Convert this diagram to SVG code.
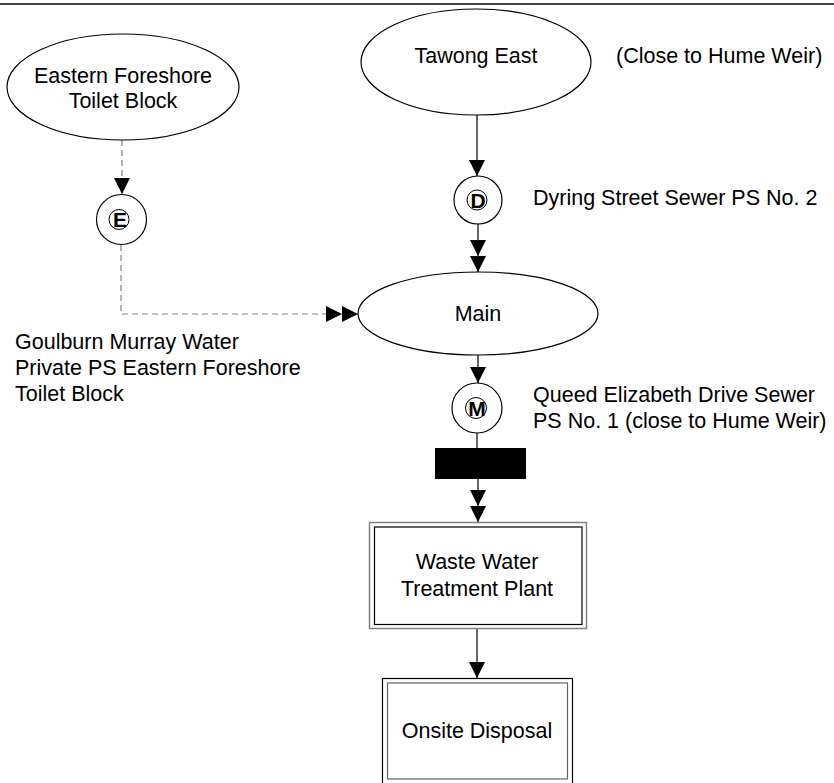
<svg xmlns="http://www.w3.org/2000/svg" width="834" height="783" viewBox="0 0 834 783">
<style>
text{font-family:"Liberation Sans",Arial,sans-serif;font-size:21.5px;fill:#000}
.c{text-anchor:middle}
.b{font-weight:bold;font-size:21px}
.shape{fill:#fff;stroke:#000;stroke-width:1.2}
.ring{fill:none;stroke:#000;stroke-width:1}
.ln{fill:none;stroke:#000;stroke-width:1.2}
.dash{fill:none;stroke:#808080;stroke-width:1.2;stroke-dasharray:6,4}
</style>
<defs>
<marker id="arr" markerUnits="userSpaceOnUse" markerWidth="16" markerHeight="16" refX="16" refY="8" orient="auto"><path d="M0,0 L16,8 L0,16 Z" fill="#000"/></marker>
<marker id="arr2" markerUnits="userSpaceOnUse" markerWidth="32" markerHeight="16" refX="32" refY="8" orient="auto"><path d="M0,0 L16,8 L0,16 Z M16,0 L32,8 L16,16 Z" fill="#000"/></marker>
</defs>
<rect width="834" height="783" fill="#fff"/>
<line x1="0" y1="4" x2="834" y2="4" stroke="#000" stroke-width="1.5"/>

<g id="connectors">
<line class="dash" x1="122" y1="140" x2="122" y2="194" marker-end="url(#arr)"/>
<polyline class="dash" points="121,245 121,314 358,314" marker-end="url(#arr2)"/>
<line class="ln" x1="477" y1="115" x2="477" y2="176" marker-end="url(#arr)"/>
<line class="ln" x1="478" y1="224" x2="478" y2="272" marker-end="url(#arr2)"/>
<line class="ln" x1="478" y1="355" x2="478" y2="383" marker-end="url(#arr)"/>
<line class="ln" x1="477" y1="433" x2="477" y2="448"/>
<line class="ln" x1="478" y1="479" x2="478" y2="522" marker-end="url(#arr2)"/>
<line class="ln" x1="477" y1="629" x2="477" y2="678" marker-end="url(#arr)"/>
</g>

<g id="eastern-foreshore">
<ellipse class="shape" cx="123" cy="87" rx="116" ry="53"/>
<text class="c" x="123" y="83">Eastern Foreshore</text>
<text class="c" x="123" y="108">Toilet Block</text>
</g>

<g id="tawong-east">
<ellipse class="shape" cx="476" cy="62" rx="115" ry="53"/>
<text class="c" x="476" y="63">Tawong East</text>
</g>
<text x="616" y="63">(Close to Hume Weir)</text>

<g id="ps-e">
<circle class="shape" cx="121.5" cy="219.5" r="25"/>
<circle class="ring" cx="119" cy="219.5" r="10"/>
<text class="c b" x="120" y="227">E</text>
</g>
<text x="15" y="349">Goulburn Murray Water</text>
<text x="15" y="375">Private PS Eastern Foreshore</text>
<text x="15" y="401">Toilet Block</text>

<g id="ps-d">
<circle class="shape" cx="478" cy="200" r="24"/>
<circle class="ring" cx="477" cy="200" r="10"/>
<text class="c b" x="478" y="207.5">D</text>
</g>
<text x="533" y="205">Dyring Street Sewer PS No. 2</text>

<g id="main">
<ellipse class="shape" cx="478" cy="313.5" rx="120" ry="41.5"/>
<text class="c" x="478" y="321">Main</text>
</g>

<g id="ps-m">
<circle class="shape" cx="477" cy="408" r="25"/>
<circle class="ring" cx="476" cy="408" r="10.5"/>
<text class="c b" x="477" y="415.5">M</text>
</g>
<text x="533" y="402">Queed Elizabeth Drive Sewer</text>
<text x="533" y="428">PS No. 1 (close to Hume Weir)</text>

<g id="meter">
<rect x="435" y="448" width="91" height="31" fill="#000"/>
</g>

<g id="wwtp">
<rect x="369.5" y="522.5" width="217" height="106" fill="#fff" stroke="#808080" stroke-width="1.5"/>
<rect x="374.5" y="527" width="207.5" height="97.5" fill="none" stroke="#000" stroke-width="1.2"/>
<text class="c" x="477" y="569">Waste Water</text>
<text class="c" x="477" y="596">Treatment Plant</text>
</g>

<g id="onsite-disposal">
<rect x="382.5" y="678.5" width="190" height="110" fill="#fff" stroke="#000" stroke-width="1.2"/>
<rect x="387.5" y="683" width="180" height="96" fill="none" stroke="#666" stroke-width="1.2"/>
<text class="c" x="477" y="738">Onsite Disposal</text>
</g>
</svg>
